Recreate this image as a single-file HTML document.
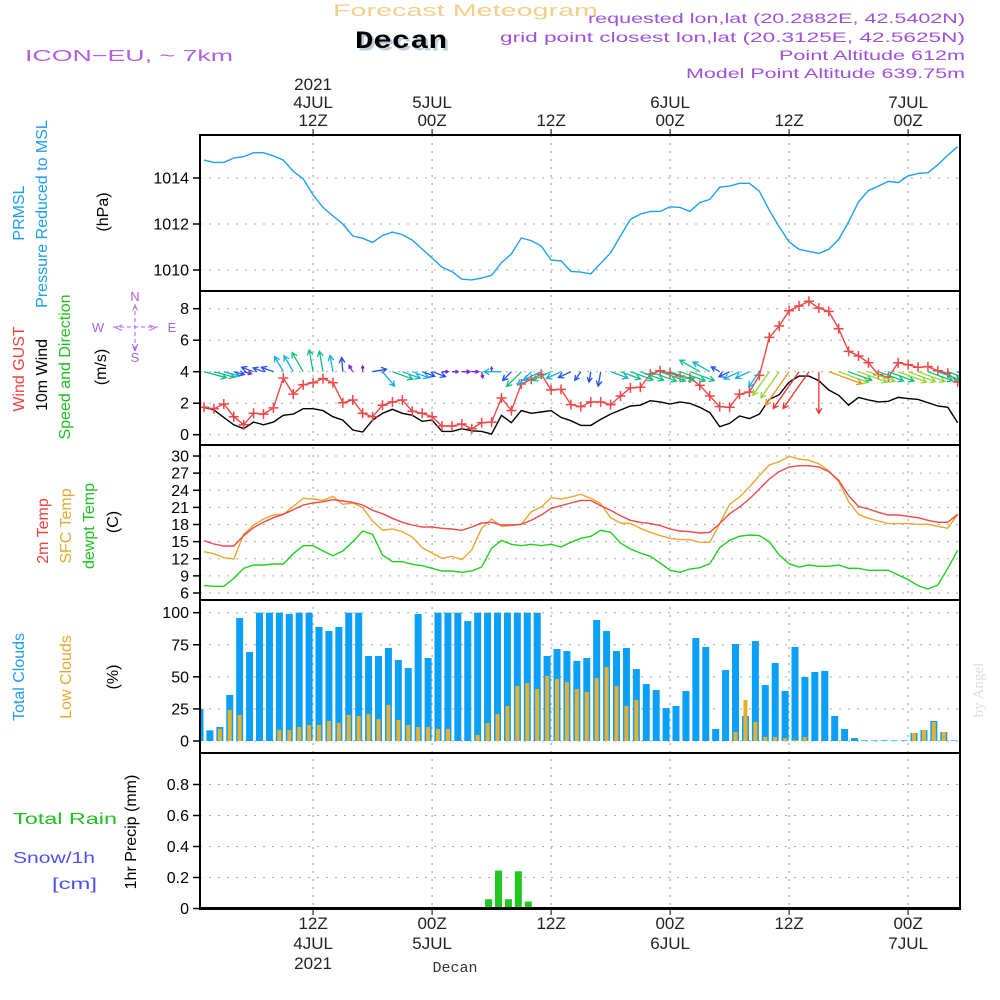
<!DOCTYPE html>
<html><head><meta charset="utf-8"><style>
html,body{margin:0;padding:0;background:#fff}
svg{display:block;font-family:"Liberation Sans",sans-serif}
</style></head><body>
<svg id="chart" width="1000" height="1000" viewBox="0 0 1000 1000" xmlns="http://www.w3.org/2000/svg">
<rect width="1000" height="1000" fill="#fff"/>
<defs>
<clipPath id="cp1"><rect x="200" y="135" width="760" height="156"/></clipPath>
<clipPath id="cp2"><rect x="200" y="291" width="760" height="154"/></clipPath>
<clipPath id="cp3"><rect x="200" y="445" width="760" height="155"/></clipPath>
<clipPath id="cp4"><rect x="200" y="600" width="760" height="153"/></clipPath>
<clipPath id="cp5"><rect x="200" y="753" width="760" height="156"/></clipPath>
</defs>
<g id="header">
<text x="333" y="16" font-size="17" fill="#f3cf8a" textLength="265" lengthAdjust="spacingAndGlyphs">Forecast Meteogram</text>
<text x="356" y="49" font-size="25" font-weight="bold" font-family="Liberation Mono, monospace" fill="#bcd" textLength="92" lengthAdjust="spacingAndGlyphs" transform="translate(1.5,1.5)">Decan</text>
<text x="355" y="48" font-size="25" font-weight="bold" font-family="Liberation Mono, monospace" fill="#000" textLength="92" lengthAdjust="spacingAndGlyphs">Decan</text>
<text x="25" y="61" font-size="16" fill="#b060e0" textLength="208" lengthAdjust="spacingAndGlyphs">ICON−EU, ~ 7km</text>
<text x="965" y="23" font-size="14" fill="#a050d8" text-anchor="end" textLength="377" lengthAdjust="spacingAndGlyphs">requested lon,lat (20.2882E, 42.5402N)</text>
<text x="965" y="42" font-size="14" fill="#a050d8" text-anchor="end" textLength="465" lengthAdjust="spacingAndGlyphs">grid point closest lon,lat (20.3125E, 42.5625N)</text>
<text x="965" y="60" font-size="14" fill="#a050d8" text-anchor="end" textLength="186" lengthAdjust="spacingAndGlyphs">Point Altitude 612m</text>
<text x="965" y="78" font-size="14" fill="#a050d8" text-anchor="end" textLength="279" lengthAdjust="spacingAndGlyphs">Model Point Altitude 639.75m</text>
<text font-size="15" font-family="Liberation Serif, serif" fill="#ddd" transform="translate(983,690) rotate(-90)" text-anchor="middle">by Angel</text>
<text x="455" y="972" font-size="15" font-family="Liberation Mono, monospace" fill="#333" text-anchor="middle">Decan</text>
</g>
<g id="labels" font-size="16">
<text fill="#1e9ef0" transform="translate(24,213) rotate(-90)" text-anchor="middle">PRMSL</text>
<text fill="#1e9ef0" transform="translate(47,214) rotate(-90)" text-anchor="middle">Pressure Reduced to MSL</text>
<text fill="#000" transform="translate(108,212) rotate(-90)" text-anchor="middle">(hPa)</text>
<text fill="#f04040" transform="translate(24,369) rotate(-90)" text-anchor="middle">Wind GUST</text>
<text fill="#000" transform="translate(47,375) rotate(-90)" text-anchor="middle">10m Wind</text>
<text fill="#20c020" transform="translate(70,367) rotate(-90)" text-anchor="middle">Speed and Direction</text>
<text fill="#000" transform="translate(106,367) rotate(-90)" text-anchor="middle">(m/s)</text>
<g fill="#b060e0" font-size="13" text-anchor="middle">
<text x="135" y="301">N</text><text x="98" y="332">W</text><text x="172" y="332">E</text><text x="135" y="362">S</text>
<line x1="135" y1="304" x2="135" y2="350" stroke="#b060e0" stroke-dasharray="4,3"/>
<line x1="113" y1="327" x2="158" y2="327" stroke="#b060e0" stroke-dasharray="4,3"/>
<text x="135" y="315">^</text><text x="119" y="332">&lt;</text><text x="152" y="332">&gt;</text><text x="135" y="351">v</text>
</g>
<text fill="#f04040" transform="translate(48,531) rotate(-90)" text-anchor="middle">2m Temp</text>
<text fill="#e8a830" transform="translate(71,526) rotate(-90)" text-anchor="middle">SFC Temp</text>
<text fill="#20c020" transform="translate(94,526) rotate(-90)" text-anchor="middle">dewpt Temp</text>
<text fill="#000" transform="translate(118,522) rotate(-90)" text-anchor="middle">(C)</text>
<text fill="#1e9ef0" transform="translate(24,677) rotate(-90)" text-anchor="middle">Total Clouds</text>
<text fill="#e8a830" transform="translate(71,677) rotate(-90)" text-anchor="middle">Low Clouds</text>
<text fill="#000" transform="translate(118,677) rotate(-90)" text-anchor="middle">(%)</text>
<text fill="#20c020" x="13" y="824" textLength="104" lengthAdjust="spacingAndGlyphs">Total   Rain</text>
<text fill="#5050f0" x="13" y="863" textLength="82" lengthAdjust="spacingAndGlyphs">Snow/1h</text>
<text fill="#5050f0" x="52" y="889" textLength="45" lengthAdjust="spacingAndGlyphs">[cm]</text>
<text fill="#000" transform="translate(136,832) rotate(-90)" text-anchor="middle">1hr Precip (mm)</text>
</g>
<g id="grid"></g>
<g id="series"></g>
<g id="frame"></g>
</svg>
<script>
const pressure=[1014.78,1014.68,1014.68,1014.87,1014.93,1015.1,1015.1,1014.96,1014.78,1014.29,1013.97,1013.26,1012.72,1012.35,1012.0,1011.48,1011.38,1011.2,1011.5,1011.65,1011.54,1011.3,1010.91,1010.52,1010.12,1009.93,1009.6,1009.57,1009.65,1009.77,1010.32,1010.7,1011.39,1011.28,1011.04,1010.43,1010.4,1009.94,1009.91,1009.83,1010.29,1010.75,1011.48,1012.2,1012.43,1012.55,1012.55,1012.75,1012.72,1012.55,1012.93,1013.07,1013.6,1013.65,1013.77,1013.77,1013.42,1012.6,1011.88,1011.22,1010.9,1010.81,1010.72,1010.9,1011.33,1012.09,1012.96,1013.45,1013.65,1013.85,1013.8,1014.09,1014.2,1014.23,1014.58,1014.99,1015.36];
const gust=[1.74,1.65,1.95,1.14,0.63,1.36,1.31,1.7,3.6,2.58,3.17,3.3,3.56,3.3,2.03,2.2,1.36,1.14,1.87,2.08,2.2,1.49,1.36,1.14,0.55,0.55,0.68,0.38,0.76,0.8,2.33,1.53,3.22,3.52,3.85,2.84,2.88,1.91,1.78,2.08,2.08,1.91,2.46,2.97,3.01,3.85,4.06,3.9,3.73,3.6,3.13,2.46,1.78,1.74,2.58,2.71,3.77,6.18,6.9,7.87,8.17,8.47,8.04,7.83,6.73,5.29,5.0,4.57,3.81,3.64,4.57,4.44,4.28,4.32,4.06,3.9,3.35];
const windSpeed=[1.74,1.57,1.1,0.63,0.38,0.8,0.63,0.8,1.23,1.31,1.65,1.65,1.53,1.14,0.93,0.3,0.17,0.93,1.36,1.61,1.36,1.23,0.85,0.93,0.21,0.21,0.38,0.25,0.21,0.04,1.23,0.76,1.53,1.36,1.44,1.53,1.1,0.89,0.59,0.59,0.97,1.31,1.57,1.82,1.87,2.16,2.08,1.95,2.08,1.99,1.74,1.4,0.51,0.72,1.19,1.02,1.31,2.24,2.54,3.34,3.72,3.72,3.43,2.84,2.5,1.87,2.37,2.2,2.08,2.12,2.37,2.29,2.24,2.03,1.82,1.74,0.76];
const windDir=[285,285,285,285,285,110,110,110,150,150,150,170,170,170,175,150,180,260,320,290,290,290,290,290,270,270,270,270,350,180,90,45,45,45,65,65,65,65,35,10,10,290,290,290,290,290,290,290,290,290,120,120,120,65,65,65,35,35,35,35,35,35,0,290,290,290,290,290,290,290,290,290,290,290,290,290,290];
const temp2m=[15.17,14.58,14.23,14.23,16.04,17.45,18.38,19.2,19.78,20.6,21.42,21.77,22.0,22.35,22.12,21.88,21.42,20.48,19.9,19.08,18.38,17.91,17.56,17.56,17.33,17.21,16.98,17.56,18.26,18.38,17.91,17.91,18.03,18.73,19.66,20.83,21.3,21.77,22.23,22.23,21.3,20.48,19.55,18.73,18.38,18.15,17.8,17.21,16.86,16.74,16.51,16.63,18.15,19.9,21.07,22.47,24.22,25.97,27.26,28.07,28.31,28.31,28.07,27.26,25.74,23.05,21.18,20.72,20.13,19.66,19.66,19.43,19.2,18.73,18.38,18.38,19.78];
const tempSfc=[13.24,12.89,12.19,11.96,16.28,17.91,18.97,19.67,19.78,21.18,22.59,22.47,22.24,22.94,21.54,21.77,20.95,18.61,16.98,17.21,16.75,15.81,13.94,13.0,12.07,12.43,11.84,13.59,17.33,18.97,17.68,17.8,18.03,20.25,21.07,22.7,22.47,22.82,23.29,22.59,21.65,19.2,18.26,18.15,17.33,16.63,16.05,15.58,15.35,15.35,14.88,14.88,18.15,21.54,22.82,24.57,26.56,28.43,29.01,29.94,29.48,29.24,28.66,27.38,25.51,22.0,19.78,19.08,18.61,18.15,18.15,18.15,18.03,18.03,17.68,17.33,19.78];
const dewpoint=[7.29,7.17,7.17,8.57,10.32,10.91,10.91,11.08,11.08,12.89,14.29,14.29,13.36,12.54,13.36,14.99,16.86,16.28,12.66,11.49,11.49,11.02,10.79,10.32,9.86,9.86,9.62,9.86,10.56,13.83,15.23,14.53,14.29,14.53,14.29,14.53,14.06,14.88,15.58,15.93,16.98,16.63,14.76,13.71,13.0,12.43,11.26,9.97,9.62,10.21,10.44,11.14,13.94,15.23,15.93,16.16,16.05,14.99,12.66,11.14,10.56,10.91,10.67,10.67,10.91,10.32,10.32,9.97,9.97,9.97,9.16,8.34,7.29,6.7,7.4,10.32,13.48];
const totalClouds=[25,8.3,10.9,35.9,95.9,69.4,100,100,100,99,100,100,88.9,85.7,88.9,100,100,66.3,66.3,72.5,63.1,56.9,99,64.7,100,100,100,93.5,100,100,100,100,100,100,100,66.3,71.7,70.1,62.4,64.7,94.3,85.7,70.1,72.5,56.1,44.4,39.8,25.7,27.3,39,80.3,73.3,9.4,55.3,75.6,19.5,77.9,43.6,60.8,39,73.3,49.9,53.8,54.6,19.5,9.4,2.3,0.5,0.5,0.5,0.5,0.5,6.2,8.6,15.6,7,0.5];
const lowClouds=[0,0,9.4,24.2,20.3,0,0,0,8.6,8.6,10.9,12.5,12.5,15.6,14,20.3,19.5,21,17.1,28.1,16.4,12.5,10.9,10.9,9.4,9.4,0,0,4.7,14,21,27.3,42.9,45.2,40.5,50.7,48.3,46,40.5,38.2,49.1,57.7,42.9,27.3,32,0,0,0,0,0,0,0,0,0,7,32,14.8,3.1,3.1,2.3,0.8,3.1,0,0,0,0,0,0,0,0,0,0,6.2,8.6,14.8,7,0];
const precip=[0,0,0,0,0,0,0,0,0,0,0.01,0,0,0,0,0,0,0,0,0,0,0,0,0,0,0,0,0,0,0.06,0.245,0.06,0.24,0.045,0,0,0,0,0,0,0,0,0,0,0,0,0,0,0,0,0,0,0,0,0,0,0,0,0,0,0,0,0,0,0,0,0,0,0,0,0,0,0,0,0,0,0];
const pTicks=[1010,1012,1014];
const wTicks=[0,2,4,6,8];
const tTicks=[6,9,12,15,18,21,24,27,30];
const cTicks=[0,25,50,75,100];
const rTicks=[0,0.2,0.4,0.6,0.8];
const timeTickIdx=[11,23,35,47,59,71];
const topTimeLabels=[["2021","4JUL","12Z"],["5JUL","00Z"],["12Z"],["6JUL","00Z"],["12Z"],["7JUL","00Z"]];
const bottomTimeLabels=[["12Z","4JUL","2021"],["00Z","5JUL"],["12Z"],["00Z","6JUL"],["12Z"],["00Z","7JUL"]];

const NS="http://www.w3.org/2000/svg";
const X=i=>204+i*9.917;
const yP=v=>270-(v-1010)*23;
const yW=v=>434.7-v*15.75;
const yT=v=>593-(v-6)*5.708;
const yC=v=>741-v*1.283;
const yR=v=>908.5-v*155;
function mk(tag,attrs,parent){const e=document.createElementNS(NS,tag);for(const k in attrs)e.setAttribute(k,attrs[k]);parent.appendChild(e);return e;}
const grid=document.getElementById('grid'),series=document.getElementById('series'),frame=document.getElementById('frame');
const panels=[{t:135,b:291,ticks:pTicks,y:yP,fmt:v=>v,name:'pressure'},{t:291,b:445,ticks:wTicks,y:yW,fmt:v=>v,name:'wind'},{t:445,b:600,ticks:tTicks,y:yT,fmt:v=>v,name:'temp'},{t:600,b:753,ticks:cTicks,y:yC,fmt:v=>v,name:'clouds'},{t:753,b:909,ticks:rTicks,y:yR,fmt:v=>v===0?'0':v.toFixed(1),name:'precip'}];
panels.forEach(p=>{
  p.ticks.forEach(v=>{
    const y=p.y(v);
    if(y>p.t+2&&y<p.b-2){const g=mk('line',{x1:200,x2:960,y1:y,y2:y,stroke:'#aaa','stroke-dasharray':'2,7'},grid);
    
    }
    const tk=mk('line',{x1:193,x2:200,y1:y,y2:y,stroke:'#000','stroke-width':1.5},frame);
    
    
    const tx=mk('text',{x:189,y:y+5.5,'font-size':16,'text-anchor':'end',fill:'#000'},frame);
    tx.textContent=p.fmt(v);
    
    
  });
});
timeTickIdx.forEach((ti,k)=>{
  const x=X(ti);
  const g=mk('line',{x1:x,x2:x,y1:135,y2:909,stroke:'#999','stroke-dasharray':'2,6'},grid);
  
  
  mk('line',{x1:x,x2:x,y1:129,y2:135,stroke:'#000'},frame);
  mk('line',{x1:x,x2:x,y1:909,y2:915,stroke:'#000'},frame);
  const tl=topTimeLabels[k];
  tl.forEach((s,j)=>{const t=mk('text',{x:x,y:128-(tl.length-1-j)*18-2,'font-size':17,'text-anchor':'middle',fill:'#222'},frame);t.textContent=s;
  
  });
  bottomTimeLabels[k].forEach((s,j)=>{const t=mk('text',{x:x,y:929+j*20,'font-size':17,'text-anchor':'middle',fill:'#222'},frame);t.textContent=s;
  
  });
});
function line(arr,yf,color,clip,name,w){
  const d=arr.map((v,i)=>(i?'L':'M')+X(i).toFixed(1)+','+yf(v).toFixed(1)).join('');
  const e=mk('path',{d:d,fill:'none',stroke:color,'stroke-width':w||1.4,'clip-path':'url(#'+clip+')'},series);
  
  
  return e;
}
line(pressure,yP,'#1ea0f0','cp1','pressure-line');
line(windSpeed,yW,'#000','cp2','wind-speed-line');
line(gust,yW,'#f04848','cp2','wind-gust-line');
gust.forEach((v,i)=>{const x=X(i),y=yW(v);
  const m=mk('path',{d:`M${x-5},${y}H${x+5}M${x},${y-5}V${y+5}`,stroke:'#f04848','stroke-width':1.5,'clip-path':'url(#cp2)'},series);
  
  });
function spdColor(s){if(s<0.5)return '#8020d0';if(s<1.0)return '#2050f0';if(s<1.5)return '#10b0e0';if(s<2.2)return '#10c080';if(s<2.8)return '#90d830';if(s<3.4)return '#f09020';return '#f03030';}
windSpeed.forEach((s,i)=>{
  const to=(windDir[i]+180)*Math.PI/180;const L=4+11*s;
  const x0=X(i),y0=yW(4);const x1=x0+Math.sin(to)*L,y1=y0-Math.cos(to)*L;
  const a=Math.atan2(y1-y0,x1-x0);const h=Math.min(6,L*0.5);
  const c=spdColor(s);
  const d=`M${x0},${y0}L${x1},${y1}M${x1-h*Math.cos(a-0.5)},${y1-h*Math.sin(a-0.5)}L${x1},${y1}L${x1-h*Math.cos(a+0.5)},${y1-h*Math.sin(a+0.5)}`;
  const e=mk('path',{d:d,fill:'none',stroke:c,'stroke-width':1.3,'clip-path':'url(#cp2)'},series);
  
  
});
line(tempSfc,yT,'#e8a830','cp3','sfc-temp-line');
line(temp2m,yT,'#f04848','cp3','2m-temp-line');
line(dewpoint,yT,'#20d020','cp3','dewpoint-line');
totalClouds.forEach((v,i)=>{const cx=X(i)-4;
  const b=mk('rect',{x:cx-3.5,y:yC(v),width:7,height:741-yC(v),fill:'#0aa0f8','clip-path':'url(#cp4)'},series);
  
  
  if(lowClouds[i]>0){const l=mk('rect',{x:cx-2,y:yC(lowClouds[i]),width:4,height:741-yC(lowClouds[i]),fill:'#e8b030','clip-path':'url(#cp4)'},series);
  
  }
});
precip.forEach((v,i)=>{if(v<=0)return;const cx=X(i)-3;
  const b=mk('rect',{x:cx-3.5,y:yR(v),width:7,height:908.5-yR(v),fill:'#20c820','clip-path':'url(#cp5)'},series);
  
  });
mk('line',{x1:200,x2:960,y1:908,y2:908,stroke:'#000','stroke-width':2},frame);
[[135,291],[291,445],[445,600],[600,753],[753,909]].forEach(([t,b])=>{
  const r=mk('rect',{x:200,y:t,width:760,height:b-t,fill:'none',stroke:'#000','stroke-width':2},frame);
  
  
});
</script>
</body></html>
